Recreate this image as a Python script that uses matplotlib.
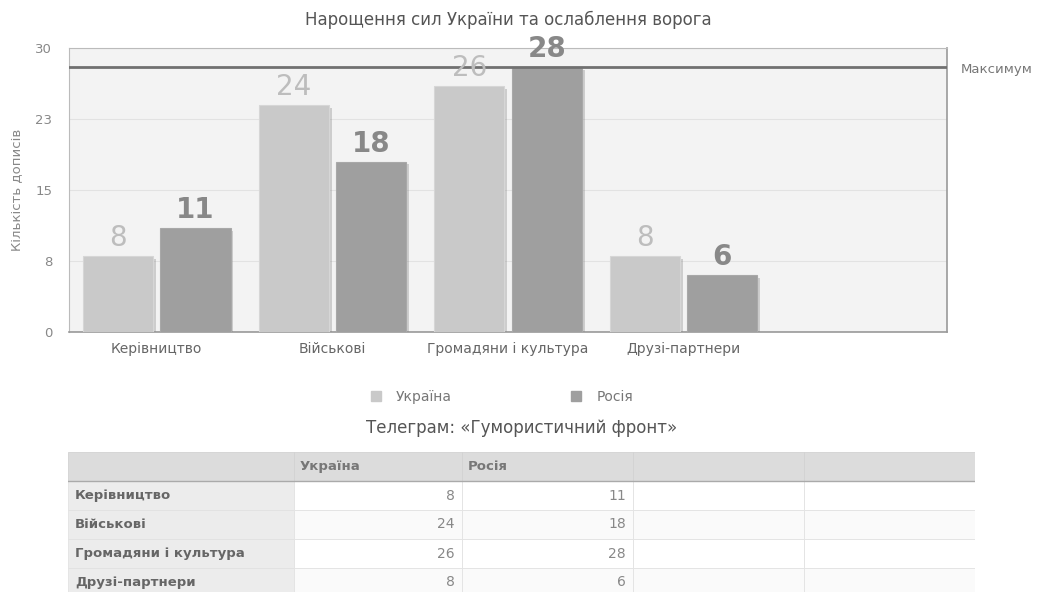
import matplotlib
matplotlib.use("Agg")
import matplotlib.pyplot as plt
import matplotlib.patheffects as pe
from matplotlib.patches import Rectangle
import numpy as np

plt.rcParams["font.family"] = ["DejaVu Sans"]

categories = ["Керівництво", "Військові", "Громадяни і культура", "Друзі-партнери"]
ukraine = [8, 24, 26, 8]
russia = [11, 18, 28, 6]
series_names = ["Україна", "Росія"]
max_value = 28
y_ticks = [0, 7.5, 15, 22.5, 30]
y_tick_labels = ["0", "8", "15", "23", "30"]

title = "Нарощення сил України та ослаблення ворога"
y_label = "Кількість дописів"
table_title = "Телеграм: «Гумористичний фронт»"

W, H = 1043, 592
fig = plt.figure(figsize=(W / 100, H / 100), dpi=100)
fig.patch.set_facecolor("white")

# --- bar chart ---
ax = fig.add_axes([69 / W, 1 - 332 / H, 878 / W, 284 / H])
ax.set_facecolor("#f3f3f3")
x = np.arange(len(categories))
bw = 0.4
off = 0.22
ukr_col, rus_col = "#c9c9c9", "#9f9f9f"
shadow = [pe.SimplePatchShadow(offset=(2, -2), shadow_rgbFace="#888888", alpha=0.35), pe.Normal()]
ax.bar(x - off, ukraine, bw, color=ukr_col, edgecolor="#d6d6d6", lw=0.8, zorder=3, path_effects=shadow)
ax.bar(x + off, russia, bw, color=rus_col, edgecolor="#a8a8a8", lw=0.8, zorder=3, path_effects=shadow)

for xi, v in zip(x, ukraine):
    ax.text(xi - off, v + 1.9, str(v), ha="center", va="center", fontsize=20, color="#bdbdbd", zorder=5)
for xi, v in zip(x, russia):
    ax.text(xi + off, v + 1.9, str(v), ha="center", va="center", fontsize=20, color="#888888",
            fontweight="bold", zorder=5)

ax.axhline(max_value, color="#707070", lw=2, zorder=4)
ax.set_xlim(-0.5, 4.5)
ax.set_ylim(0, 30)
ax.set_yticks(y_ticks)
ax.set_yticklabels(y_tick_labels)
ax.set_xticks(x)
ax.set_xticklabels(categories)
ax.tick_params(length=0, colors="#888888", labelsize=9.5)
ax.tick_params(axis="x", colors="#666666", labelsize=10, pad=15)
ax.tick_params(axis="y", pad=12)
for lbl in ax.get_xticklabels():
    lbl.set_verticalalignment("baseline")
ax.grid(axis="y", color="#e2e2e2", lw=0.8, zorder=0)
for s in ["left", "top"]:
    ax.spines[s].set_color("#bbbbbb")
for s in ["right", "bottom"]:
    ax.spines[s].set_color("#999999")
    ax.spines[s].set_linewidth(1.2)
ax.set_ylabel(y_label, color="#888888", fontsize=9.5, va="center")
ax.yaxis.set_label_coords(-52 / 878, 0.5)

fig.text(508 / W, 1 - 20 / H, title, ha="center", va="center", fontsize=12, color="#555555")
fig.text(961 / W, 1 - 70 / H, "Максимум", ha="left", va="center", fontsize=9.5, color="#777777")

# legend
handles = [Rectangle((0, 0), 1, 1, color=ukr_col), Rectangle((0, 0), 1, 1, color=rus_col)]
fig.legend(handles, series_names, loc="center", bbox_to_anchor=(502 / W, 1 - 397 / H), ncol=2,
           frameon=False, handlelength=0.72, handleheight=0.72, handletextpad=1.1,
           columnspacing=8.6, fontsize=10, labelcolor="#777777")

fig.text(522 / W, 1 - 428 / H, table_title, ha="center", va="center", fontsize=12, color="#555555")

# --- table ---
col_edges = [0, 226, 394, 565, 736, 907]
row_h = 29
n_rows = len(categories) + 1
tab_h = row_h * n_rows
tax = fig.add_axes([68 / W, 1 - (452 + tab_h) / H, 907 / W, tab_h / H])
tax.set_xlim(0, col_edges[-1])
tax.set_ylim(tab_h, 0)
tax.axis("off")

headers = [""] + series_names + ["", ""]
for c in range(5):
    x0, x1 = col_edges[c], col_edges[c + 1]
    tax.add_patch(Rectangle((x0, 0), x1 - x0, row_h, facecolor="#dcdcdc", edgecolor="#d2d2d2", lw=0.6))
    if headers[c]:
        tax.text(x0 + 6, row_h / 2, headers[c], ha="left", va="center", fontsize=9.5,
                 fontweight="bold", color="#777777")
tax.plot([0, col_edges[-1]], [row_h, row_h], color="#aaaaaa", lw=1)

for r, cat in enumerate(categories):
    y0 = row_h * (r + 1)
    vals = [cat, str(ukraine[r]), str(russia[r]), "", ""]
    for c in range(5):
        x0, x1 = col_edges[c], col_edges[c + 1]
        fc = "#ececec" if c == 0 else ("#ffffff" if r % 2 == 0 else "#fafafa")
        tax.add_patch(Rectangle((x0, y0), x1 - x0, row_h, facecolor=fc, edgecolor="#e2e2e2", lw=0.6))
        if c == 0:
            tax.text(x0 + 7, y0 + row_h / 2, vals[c], ha="left", va="center", fontsize=9.5,
                     fontweight="bold", color="#666666")
        elif vals[c]:
            tax.text(x1 - 7, y0 + row_h / 2, vals[c], ha="right", va="center", fontsize=10,
                     color="#888888")

fig.savefig("out.png", dpi=100)
